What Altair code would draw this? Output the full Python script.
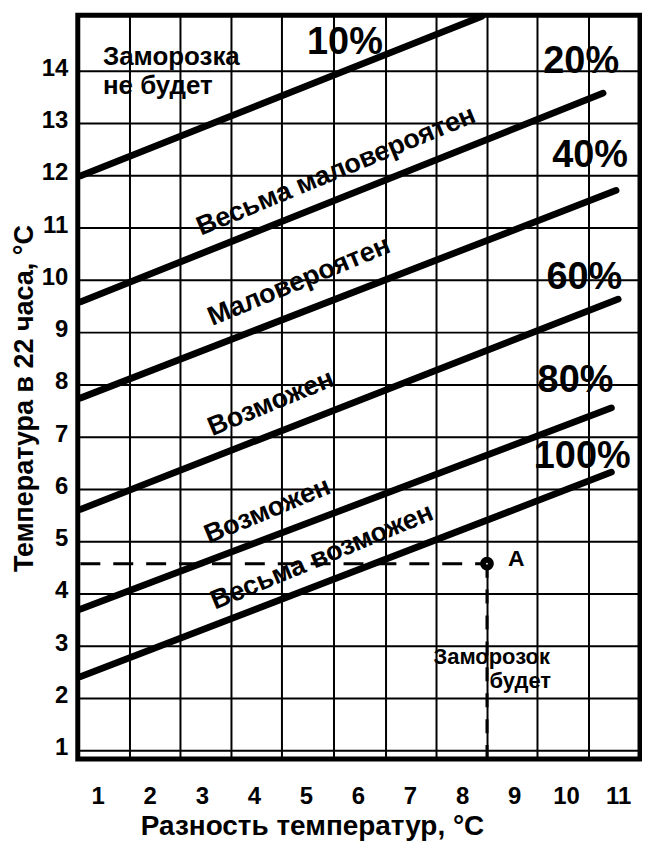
import altair as alt
import pandas as pd

FONT = "Liberation Sans"

# ---- axis ticks / grid ----
x_ticks = list(range(1, 12))
y_ticks = list(range(1, 15))
grid_x = [1.62, 2.59, 3.57, 4.54, 5.54, 6.54, 7.51, 8.49, 9.45, 10.44]
grid_y = list(range(1, 15))

# ---- probability lines ----
series = ["10%", "20%", "40%", "60%", "80%", "100%"]
x_start = [0.67, 0.67, 0.67, 0.67, 0.67, 0.67]
y_start = [12.0, 9.59, 7.75, 5.62, 3.71, 2.42]
x_end = [8.38, 10.71, 10.96, 11.0, 10.87, 10.87]
y_end = [15.05, 13.58, 11.72, 9.64, 7.56, 6.33]

# ---- percent labels ----
pct_x = [5.75, 10.29, 10.46, 10.35, 10.18, 10.31]
pct_y = [14.54, 14.17, 12.38, 10.05, 8.07, 6.62]

# ---- zone labels (along the lines) ----
zone_text = ["Весьма маловероятен", "Маловероятен", "Возможен", "Возможен", "Весьма возможен"]
zone_x = [5.58, 4.87, 4.33, 4.26, 5.31]
zone_y = [12.09, 9.98, 7.65, 5.59, 4.71]

# ---- other annotations ----
note_text = ["Заморозка", "не будет"]
note_x = [1.10, 1.10]
note_y = [14.27, 13.71]

frost_text = ["Заморозок", "будет"]
frost_x = [8.57, 9.12]
frost_y = [2.80, 2.33]

point_x = [8.48]
point_y = [4.58]
point_label = ["A"]

X_DOM = [0.617, 11.42]
Y_DOM = [0.845, 15.07]

xs = alt.Scale(domain=X_DOM, nice=False, zero=False)
ys = alt.Scale(domain=Y_DOM, nice=False, zero=False)

x_axis = alt.Axis(
    values=x_ticks, grid=False, ticks=False, domain=False,
    labelFontSize=24, labelFontWeight="bold", labelFont=FONT, labelColor="black",
    labelPadding=26, labelFlush=False,
    title="Разность температур,  °C", titleFontSize=28, titleFontWeight="bold",
    titleFont=FONT, titleColor="black", titleBaseline="alphabetic",
    titleY=76, titleX=313 - 78, titleAlign="center",
)
y_axis = alt.Axis(
    values=y_ticks, grid=False, ticks=False, domain=False,
    labelFontSize=24, labelFontWeight="bold", labelFont=FONT, labelColor="black",
    labelPadding=10, labelOffset=-3, labelFlush=False,
    title="Температура в 22 часа, °C", titleFontSize=27, titleFontWeight="bold",
    titleFont=FONT, titleColor="black", titleAngle=270, titleAlign="center",
    titleBaseline="middle", titleX=-53, titleY=384,
)

gx_df = pd.DataFrame({"gx": grid_x})
gy_df = pd.DataFrame({"gy": grid_y})

vgrid = alt.Chart(gx_df).mark_rule(color="black", strokeWidth=2).encode(
    x=alt.X("gx:Q", scale=xs, axis=x_axis)
)
hgrid = alt.Chart(gy_df).mark_rule(color="black", strokeWidth=2).encode(
    y=alt.Y("gy:Q", scale=ys, axis=y_axis)
)

rows = []
for i, s in enumerate(series):
    rows.append({"s": s, "x": x_start[i], "y": y_start[i], "o": 0})
    rows.append({"s": s, "x": x_end[i], "y": y_end[i], "o": 1})
lines_df = pd.DataFrame(rows)

lines = alt.Chart(lines_df).mark_line(
    color="black", strokeWidth=6.8, strokeCap="round"
).encode(
    x=alt.X("x:Q", scale=xs),
    y=alt.Y("y:Q", scale=ys),
    detail="s:N",
    order="o:Q",
)

pt_df = pd.DataFrame({"x": point_x, "y": point_y, "x0": [X_DOM[0] + 0.05], "y0": [Y_DOM[0]], "t": point_label})

hdash = alt.Chart(pt_df).mark_rule(color="black", strokeWidth=3, strokeDash=[20, 13]).encode(
    x=alt.X("x0:Q", scale=xs), x2="x:Q", y=alt.Y("y:Q", scale=ys)
)
vdash = alt.Chart(pt_df).mark_rule(color="black", strokeWidth=3, strokeDash=[14, 12]).encode(
    x=alt.X("x:Q", scale=xs), y=alt.Y("y:Q", scale=ys), y2="y0:Q"
)
point = alt.Chart(pt_df).mark_point(
    shape="circle", filled=False, fill="white", color="black", strokeWidth=6, size=60, opacity=1
).encode(x=alt.X("x:Q", scale=xs), y=alt.Y("y:Q", scale=ys))

a_label = alt.Chart(pt_df).mark_text(
    font=FONT, fontSize=23, fontWeight="bold", color="black", align="left", baseline="middle", dx=21, dy=-5
).encode(x=alt.X("x:Q", scale=xs), y=alt.Y("y:Q", scale=ys), text="t:N")

pct_df = pd.DataFrame({"x": pct_x, "y": pct_y, "t": series})
pct = alt.Chart(pct_df).mark_text(
    font=FONT, fontSize=38, fontWeight="bold", color="black", align="center", baseline="middle"
).encode(x=alt.X("x:Q", scale=xs), y=alt.Y("y:Q", scale=ys), text="t:N")

zone_df = pd.DataFrame({"x": zone_x, "y": zone_y, "t": zone_text})
zones = alt.Chart(zone_df).mark_text(
    font=FONT, fontSize=27, fontWeight="bold", color="black", align="center", baseline="middle", angle=337.5
).encode(x=alt.X("x:Q", scale=xs), y=alt.Y("y:Q", scale=ys), text="t:N")

note_df = pd.DataFrame({"x": note_x, "y": note_y, "t": note_text})
notes = alt.Chart(note_df).mark_text(
    font=FONT, fontSize=26, fontWeight="bold", color="black", align="left", baseline="middle"
).encode(x=alt.X("x:Q", scale=xs), y=alt.Y("y:Q", scale=ys), text="t:N")

frost_df = pd.DataFrame({"x": frost_x, "y": frost_y, "t": frost_text})
frost = alt.Chart(frost_df).mark_text(
    font=FONT, fontSize=22, fontWeight="bold", color="black", align="center", baseline="middle"
).encode(x=alt.X("x:Q", scale=xs), y=alt.Y("y:Q", scale=ys), text="t:N")

chart = alt.layer(
    vgrid, hgrid, lines, hdash, vdash, point, a_label, pct, zones, notes, frost
).properties(
    width=564, height=746,
    autosize=alt.AutoSizeParams(type="none"),
    padding={"left": 70, "top": 6, "right": 2, "bottom": 84},
    background="white",
).configure_view(
    stroke="black", strokeWidth=5
)

chart.save("out.html", embed_options={"renderer": "svg", "actions": False})
